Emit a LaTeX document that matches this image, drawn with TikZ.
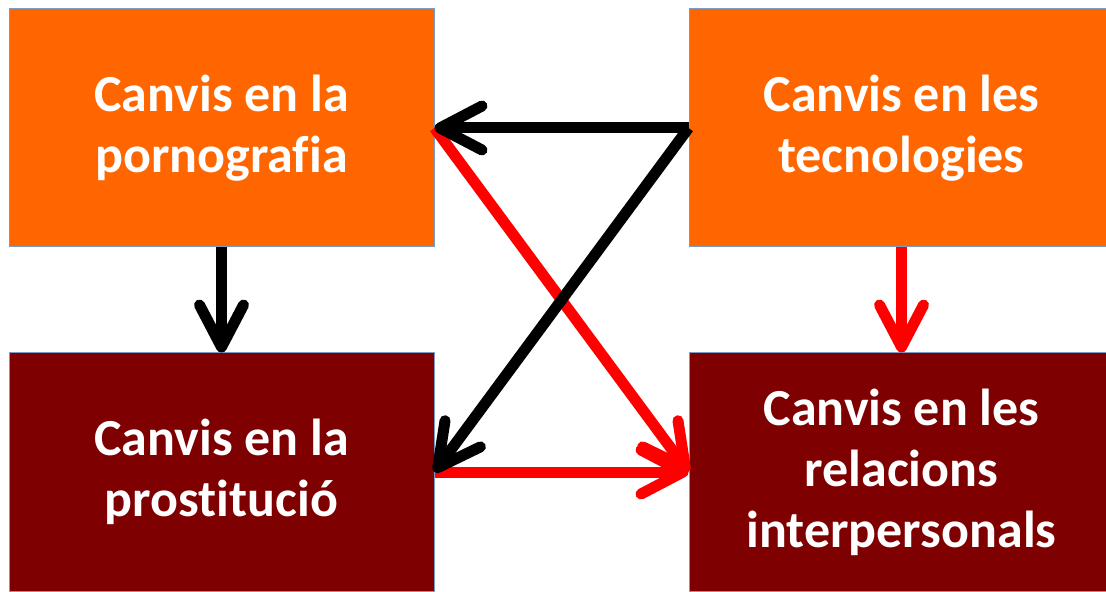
\documentclass[tikz,border=0pt]{standalone}
\usepackage{fontspec}
\setmainfont{Carlito}[Ligatures=NoCommon]
\usetikzlibrary{arrows.meta}
\definecolor{boxorange}{RGB}{255,102,0}
\definecolor{boxmaroon}{RGB}{127,0,0}
\definecolor{boxline}{RGB}{125,155,200}
\tikzstyle{box}=[rectangle,draw=boxline,line width=0.5pt,minimum width=212.5pt,minimum height=119pt,inner sep=0pt,text=white,align=center,font=\bfseries\fontsize{26}{30.5}\selectfont]
\tikzstyle{top box}=[box,fill=boxorange]
\tikzstyle{bottom box}=[box,fill=boxmaroon]
\tikzstyle{black edge}=[draw,line width=5.5pt,-{Straight Barb[length=21pt,width=22pt,round]},black]
\tikzstyle{red edge}=[draw,line width=5.5pt,-{Straight Barb[length=21pt,width=22pt,round]},red]

\begin{document}
\begin{tikzpicture}[x=0.5pt,y=-0.5pt]
			\useasboundingbox (0,0) rectangle (1106,592);
			\node[top box] (porno) at (221.5,128) {Canvis en la\\pornografia};
			\node[top box] (tecno) at (901.5,128) {Canvis en les\\tecnologies};
			\node[bottom box] (prost) at (221.5,472) {Canvis en la\\prostitució};
			\node[bottom box] (relac) at (901.5,472) {Canvis en les\\relacions\\interpersonals};
	   		% Red links first, black ones on top
	   		\path[red edge] (porno.east) to (relac.west);
	   		\path[red edge] (prost.east) to (relac.west);
	   		\path[red edge] (tecno.south) to (relac.north);
	   		\foreach \source/ \dest in {tecno.west/porno.east,tecno.west/prost.east,porno.south/prost.north}
	        		\path[black edge] (\source) to (\dest);
		\end{tikzpicture}
\end{document}
